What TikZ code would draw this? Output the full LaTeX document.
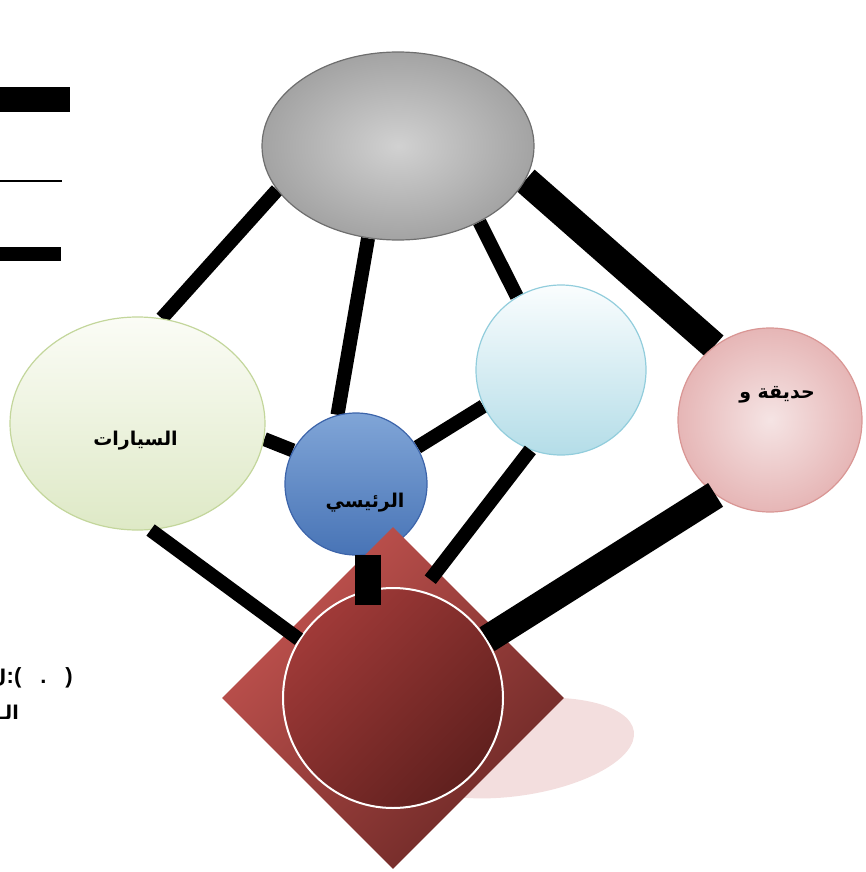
\documentclass[tikz,border=0pt]{standalone}
\usepackage{fontspec}
\newfontfamily\arabicfont[Script=Arabic]{DejaVu Sans}
\newfontfamily\capfont{Liberation Sans}
\TeXXeTstate=1
\usetikzlibrary{shapes.geometric,backgrounds}
\definecolor{hubedge}{RGB}{110,110,110}
\definecolor{carsedge}{RGB}{195,214,155}
\definecolor{carstop}{RGB}{251,252,246}
\definecolor{carsbot}{RGB}{222,233,198}
\definecolor{mainedge}{RGB}{60,100,170}
\definecolor{maintop}{RGB}{128,165,215}
\definecolor{mainbot}{RGB}{72,116,182}
\definecolor{lightedge}{RGB}{146,205,220}
\definecolor{lighttop}{RGB}{250,253,254}
\definecolor{lightbot}{RGB}{180,221,232}
\definecolor{parkedge}{RGB}{217,150,148}
\definecolor{parkin}{RGB}{245,228,228}
\definecolor{parkout}{RGB}{230,182,182}
\definecolor{redtop}{RGB}{196,84,80}
\definecolor{redbot}{RGB}{108,40,38}
\definecolor{coretop}{RGB}{160,58,56}
\definecolor{corebot}{RGB}{96,32,30}
\definecolor{shadowpink}{RGB}{243,222,222}
\newcommand{\artext}[1]{{\arabicfont\bfseries\fontsize{19}{22}\selectfont\beginR #1\endR}}
\begin{document}
\begin{tikzpicture}[x=1pt,y=-1pt,
	bubble/.style={draw,line width=1.2pt,inner sep=0pt},
	link/.style={line width=14pt},
	biglink/.style={line width=28pt}]
	\useasboundingbox (0,0) rectangle (866,872);
	% left margin marks
	\fill (0,87) rectangle (70,112);
	\draw[line width=2pt] (0,181) -- (62,181);
	\fill (0,247) rectangle (61,261);
	\node[anchor=east,inner sep=0pt] (capa) at (73,678) {\capfont\bfseries\fontsize{22}{25}\selectfont :(\hspace{19pt}.\hspace{19pt})};
	\node[anchor=east,inner sep=0pt] (capl) at (capa.west) {\artext{ل}};
	\node[anchor=east,inner sep=0pt] (capb) at (19,712) {\artext{الـ}};
	% circles
	\node[bubble,ellipse,minimum width=272pt,minimum height=188pt,draw=hubedge,inner color=gray!36,outer color=gray!72] (hub) at (398,146) {};
	\node[bubble,ellipse,minimum width=255pt,minimum height=213pt,draw=carsedge,top color=carstop,bottom color=carsbot] (cars) at (137.5,423.5) {};
	\node[bubble,circle,minimum size=142pt,draw=mainedge,top color=maintop,bottom color=mainbot] (main) at (356,484) {};
	\node[bubble,circle,minimum size=170pt,draw=lightedge,top color=lighttop,bottom color=lightbot] (light) at (561,370) {};
	\node[bubble,circle,minimum size=184pt,draw=parkedge,inner color=parkin,outer color=parkout] (park) at (770,420) {};
	\node at ([xshift=-2pt,yshift=-17pt]cars.center) {\artext{السيارات}};
	\node at ([xshift=9pt,yshift=-19pt]main.center) {\artext{الرئيسي}};
	\node at ([xshift=7pt,yshift=25pt]park.center) {\artext{حديقة و}};
	\begin{scope}[on background layer]
		\fill[shadowpink,rotate around={8:(515,748)}] (515,748) ellipse [x radius=120, y radius=48];
		\draw[link] (hub.200) -- (cars.77);
		\draw[link] (hub.252) -- (main.105);
		\draw[link] (hub.317) -- (light.121);
		\draw[biglink] (hub.345) -- (park.127);
		\draw[link] (cars.353) -- (main.152);
		\draw[link] (light.205) -- (main.31);
	\end{scope}
	% centre
	\node[diamond,inner sep=0pt,minimum width=342pt,minimum height=342pt,top color=redtop,bottom color=redbot,shading angle=45] (plot) at (393,698) {};
	\node[circle,inner sep=0pt,minimum size=220pt,draw=white,line width=2pt,top color=coretop,bottom color=corebot,shading angle=45] (core) at (393,698) {};
	\draw[link] (cars.277) -- (core.148);
	\draw[link,shorten >=14pt] (light.249) -- (core.75);
	\draw[biglink] (park.234) -- (core.32);
	\draw[line width=26pt,shorten >=93pt] (main.280) -- (main.280 |- core.center);
\end{tikzpicture}
\end{document}
